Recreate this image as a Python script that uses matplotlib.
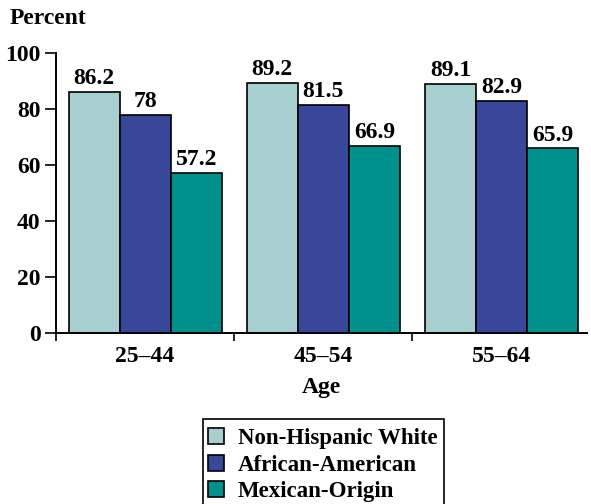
import matplotlib
matplotlib.use("Agg")
import matplotlib.pyplot as plt
from matplotlib.patches import Rectangle
import numpy as np

age_groups = ["25\u201344", "45\u201354", "55\u201364"]
series_names = ["Non-Hispanic White", "African-American", "Mexican-Origin"]
non_hispanic_white = [86.2, 89.2, 89.1]
african_american = [78, 81.5, 82.9]
mexican_origin = [57.2, 66.9, 65.9]
y_ticks = [0, 20, 40, 60, 80, 100]

colors = ["#A8D0D1", "#39479A", "#00918D"]

plt.rcParams["font.family"] = ["Liberation Serif", "DejaVu Serif"]
plt.rcParams["font.weight"] = "bold"
FS = 17

W, H = 591, 504
fig = plt.figure(figsize=(W / 100, H / 100), dpi=100)

left, right, top, bottom = 56, 587, 53, 333
ax = fig.add_axes([left / W, (H - bottom) / H, (right - left) / W, (bottom - top) / H])

x = np.arange(len(age_groups))
bw = 0.2865
all_series = [non_hispanic_white, african_american, mexican_origin]
for i, (vals, name, c) in enumerate(zip(all_series, series_names, colors)):
    bars = ax.bar(x + (i - 1) * bw, vals, width=bw, color=c, edgecolor="black",
                  linewidth=1.2, label=name, zorder=2)
    ax.bar_label(bars, labels=[f"{v:g}" for v in vals], padding=2,
                 fontsize=FS, fontweight="bold")

ax.set_ylim(0, 100)
ax.set_xlim(-0.5, 2.48)
ax.set_yticks(y_ticks)
ax.set_yticklabels([str(t) for t in y_ticks], fontsize=FS, fontweight="bold")
ax.tick_params(axis="y", direction="out", length=8, width=1.2, pad=3)

# category boundaries as major ticks, category names as minor tick labels
ax.set_xticks([-0.5, 0.5, 1.5])
ax.set_xticklabels([])
ax.tick_params(axis="x", which="major", direction="out", length=6, width=1.2)
ax.set_xticks(x, minor=True)
ax.set_xticklabels(age_groups, minor=True, fontsize=FS, fontweight="bold")
ax.tick_params(axis="x", which="minor", length=0, pad=9)

for s in ["top", "right"]:
    ax.spines[s].set_visible(False)
for s in ["left", "bottom"]:
    ax.spines[s].set_linewidth(1.4)

fig.text(10 / W, 1 - 18 / H, "Percent", fontsize=17, fontweight="bold",
         ha="left", va="center")
fig.text((left + right) / 2 / W, 1 - 387 / H, "Age", fontsize=FS,
         fontweight="bold", ha="center", va="center")

# legend box: open at the bottom edge of the figure
fig.patches.append(Rectangle((203 / W, -0.02), 241 / W, 0.02 + (H - 419) / H,
                             transform=fig.transFigure, facecolor="white",
                             edgecolor="black", linewidth=1.2, zorder=1))
leg = fig.legend(loc="upper left", bbox_to_anchor=(203 / W, 1 - 423 / H),
                 frameon=False,
                 prop={"size": 16.5, "weight": "bold"},
                 handlelength=0.7, handleheight=0.7, handletextpad=0.6,
                 labelspacing=0.24, borderpad=0.22, borderaxespad=0)
leg.set_zorder(2)

fig.savefig("out.png", dpi=100)
